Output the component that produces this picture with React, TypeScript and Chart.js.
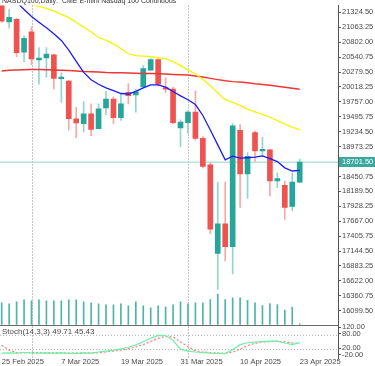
import React, { useEffect, useRef } from 'react';
import { Chart, registerables } from 'chart.js';
Chart.register(...registerables);

const DATES = ['25 Feb 2025','26 Feb 2025','27 Feb 2025','28 Feb 2025','3 Mar 2025','4 Mar 2025','5 Mar 2025','6 Mar 2025','7 Mar 2025','10 Mar 2025','11 Mar 2025','12 Mar 2025','13 Mar 2025','14 Mar 2025','17 Mar 2025','18 Mar 2025','19 Mar 2025','20 Mar 2025','21 Mar 2025','24 Mar 2025','25 Mar 2025','26 Mar 2025','27 Mar 2025','28 Mar 2025','31 Mar 2025','1 Apr 2025','2 Apr 2025','3 Apr 2025','4 Apr 2025','7 Apr 2025','8 Apr 2025','9 Apr 2025','10 Apr 2025','11 Apr 2025','14 Apr 2025','15 Apr 2025','16 Apr 2025','17 Apr 2025','21 Apr 2025','22 Apr 2025','23 Apr 2025'];

const OPEN  = [21470,21157,21204,20630,20985,20492,20526,20583,20164,20123,19462,19376,19548,19290,19652,19807,19479,19923,19881,20019,20312,20497,20009,19980,19302,19393,19578,19117,18657,17105,17622,17220,19260,18497,19221,18898,18916,18371,18295,17927,18353];
const HIGH  = [21500,21376,21221,20916,21071,20709,20709,20595,20267,20135,19664,19761,19721,19721,19940,19847,19893,20078,19980,20393,20514,20514,20181,20014,19445,19605,19950,19157,18698,18353,18353,19376,19359,18871,19250,19135,18928,18514,18371,18514,18755];
const LOW   = [21150,21049,20548,20462,20411,20066,20192,19980,19750,19260,19129,19233,19164,19285,19531,19376,19433,19721,19578,20010,20307,20036,19923,19376,18974,19204,19088,18600,17450,16474,16974,16743,17910,18065,18716,18802,18112,18255,17698,17853,18341];
const CLOSE = [21169,21238,20618,20871,20509,20526,20595,20169,20192,19462,19388,19548,19273,19635,19807,19479,19721,19864,19933,20342,20497,20066,19980,19393,19405,19578,19117,18629,17526,17622,17220,19336,18497,18802,18898,18928,18371,18415,17910,18353,18701.5];
const VOLUME = [550000,525000,575000,625000,600000,625000,600000,600000,600000,625000,625000,575000,550000,525000,500000,500000,525000,475000,575000,475000,425000,475000,450000,500000,575000,525000,550000,550000,632000,775000,632000,675000,675000,617000,550000,482000,532000,507000,367000,442000,17000];

const MA_FAST = [21756,21635,21504,21376,21252,21152,21054,20950,20833,20662,20466,20273,20145,20066,20002,19954,19904,19895,19943,20004,20054,20054,20016,19938,19862,19795,19711,19519,19264,19005,18743,18807,18772,18779,18788,18810,18764,18712,18602,18547,18559];
const MA_MID  = [21652,21600,21549,21497,21462,21428,21394,21350,21290,21233,21152,21066,20980,20885,20833,20773,20687,20600,20566,20557,20549,20531,20514,20462,20393,20317,20245,20152,20038,19917,19796,19750,19695,19626,19583,19540,19488,19428,19367,19316,19273];
const MA_SLOW = [20299,20311,20316,20321,20324,20324,20321,20316,20312,20307,20299,20290,20285,20280,20273,20269,20266,20262,20259,20255,20254,20250,20245,20238,20233,20226,20212,20192,20169,20147,20126,20112,20104,20092,20074,20061,20049,20031,20014,19997,19980];

const STOCH_K = [5,6,5,8,6,5,6,5,6,4,4,6,5,10,14,18,23,30,40,53,68,80,79,59,22,14,10,7,5,4,3.5,20,41,49,52,54,56,56,48,41,49.71];
const STOCH_D = [38,18,8,7,7,7,6,6,6,5,5,5,5,7,10,14,18,24,31,41,54,67,76,73,53,32,15,10,7,5.5,4.5,9,22,37,47,52,54,55,53,48,45.43];

const PRICE_TICKS = [21324.5,21063.25,20802.0,20540.75,20279.5,20018.25,19757.0,19495.75,19234.5,18973.25,18450.75,18189.5,17928.25,17667.0,17405.75,17144.5,16883.25,16622.0,16360.75,16099.5];
const STOCH_TICK_LABELS = ['120.00','80.00','20.00','-20.00'];
const STOCH_TICK_AT = [113.5, 86.5, 26.5, -1];
const STOCH_LEVELS = [80, 20];
const X_TICK_IDX = [0, 8, 16, 24, 32, 40];

const TITLE = 'NASDQ100,Daily:  CME E-mini Nasdaq 100 Continuous';
const STOCH_TITLE = 'Stoch(14,3,3) 49.71 45.43';

const UP = '#26a69a';
const DOWN = '#ef5350';
const UP_WICK = '#93d5cd';
const DOWN_WICK = '#f7a9a7';
const FONT = 'Liberation Sans, Arial, sans-serif';
const TXT = '#4a4a4a';

const X_MIN = -0.23;
const X_MAX = 45.14;

export default function App() {
  const ref = useRef<HTMLCanvasElement>(null);
  useEffect(() => {
    document.body.style.margin = '0';
    const idx = DATES.map((_, i) => i);
    const isUp = idx.map(i => CLOSE[i] >= OPEN[i]);
    const last = CLOSE[CLOSE.length - 1];
    const line = (arr: number[]) => arr.map((v, i) => ({ x: i, y: v }));
    const flat = (v: number) => [{ x: X_MIN, y: v }, { x: X_MAX, y: v }];

    const extras = {
      id: 'extras',
      beforeDatasetsDraw(chart: any) {
        const { ctx, scales } = chart;
        const xs = scales.x, ys = scales.ys, y = scales.y;
        ctx.save();
        ctx.strokeStyle = '#8a8a8a';
        ctx.lineWidth = 1;
        ctx.setLineDash([1, 2]);
        for (let i = 1; i < DATES.length; i++) {
          const m0 = DATES[i - 1].split(' ')[1];
          const m1 = DATES[i].split(' ')[1];
          if (m0 !== m1) {
            const px = Math.round(xs.getPixelForValue(i)) + 0.5;
            ctx.beginPath();
            ctx.moveTo(px, y.top);
            ctx.lineTo(px, ys.bottom);
            ctx.stroke();
          }
        }
        ctx.restore();
      },
      afterDraw(chart: any) {
        const { ctx, scales, chartArea } = chart;
        const ys = scales.ys, y = scales.y;
        ctx.save();
        ctx.strokeStyle = '#6a6a6a';
        ctx.lineWidth = 1;
        ctx.beginPath();
        const sy = Math.round(ys.top) + 0.5;
        ctx.moveTo(chartArea.left, sy);
        ctx.lineTo(chartArea.right, sy);
        ctx.stroke();
        ctx.fillStyle = '#333';
        ctx.font = `7px ${FONT}`;
        ctx.textBaseline = 'alphabetic';
        ctx.textAlign = 'left';
        ctx.fillText(TITLE, 2, 3);
        ctx.fillStyle = TXT;
        ctx.font = `8px ${FONT}`;
        ctx.fillText(STOCH_TITLE, 2, ys.top + 9);
        const py = y.getPixelForValue(last);
        ctx.fillStyle = '#3aa99d';
        ctx.fillRect(chartArea.right + 1, Math.round(py) - 5, 375 - chartArea.right - 1, 10);
        ctx.fillStyle = '#ffffff';
        ctx.font = `7.5px ${FONT}`;
        ctx.textBaseline = 'middle';
        ctx.fillText(last.toFixed(2), chartArea.right + 4, Math.round(py));
        ctx.restore();
      }
    };

    const chart = new Chart(ref.current as HTMLCanvasElement, {
      type: 'bar',
      data: {
        datasets: [
          { type: 'line', data: line(MA_FAST), yAxisID: 'y', borderColor: '#1c1cf5', borderWidth: 1.3, pointRadius: 0, tension: 0 },
          { type: 'line', data: line(MA_MID), yAxisID: 'y', borderColor: '#f5f500', borderWidth: 1.3, pointRadius: 0, tension: 0 },
          { type: 'line', data: line(MA_SLOW), yAxisID: 'y', borderColor: '#f03535', borderWidth: 1.5, pointRadius: 0, tension: 0 },
          { type: 'bar', data: idx.map(i => ({ x: i, y: [OPEN[i], CLOSE[i]] })), yAxisID: 'y', backgroundColor: idx.map(i => isUp[i] ? UP : DOWN), barThickness: 5, grouped: false, minBarLength: 1, borderWidth: 0 },
          { type: 'bar', data: idx.map(i => ({ x: i, y: [LOW[i], HIGH[i]] })), yAxisID: 'y', backgroundColor: idx.map(i => isUp[i] ? UP_WICK : DOWN_WICK), barThickness: 1, grouped: false, borderWidth: 0 },
          { type: 'bar', data: idx.map(i => ({ x: i, y: VOLUME[i] })), yAxisID: 'yv', backgroundColor: '#4fb3a8', barThickness: 1, grouped: false, borderWidth: 0 },
          { type: 'line', data: flat(last), yAxisID: 'y', borderColor: '#93d3cb', borderWidth: 1, pointRadius: 0 },
          { type: 'line', data: line(STOCH_K), yAxisID: 'ys', borderColor: '#6ef0a4', borderWidth: 1.2, pointRadius: 0, tension: 0 },
          { type: 'line', data: line(STOCH_D), yAxisID: 'ys', borderColor: '#ff7a7a', borderWidth: 1.2, borderDash: [2, 2], pointRadius: 0, tension: 0 },
          ...STOCH_LEVELS.map(v => ({ type: 'line', data: flat(v), yAxisID: 'ys', borderColor: '#b0b0b0', borderWidth: 1, borderDash: [1, 2], pointRadius: 0 })),
        ] as any,
      },
      options: {
        responsive: false,
        animation: false,
        events: [],
        layout: { padding: 0, autoPadding: false } as any,
        plugins: { legend: { display: false }, tooltip: { enabled: false } },
        scales: {
          x: {
            type: 'linear', min: X_MIN, max: X_MAX, offset: false,
            grid: { display: false, drawTicks: false }, border: { display: false },
            afterBuildTicks: (s: any) => { s.ticks = X_TICK_IDX.map(v => ({ value: v })); },
            afterFit: (s: any) => { s.height = 8; },
            ticks: { autoSkip: false, maxRotation: 0, align: 'start', padding: 0, color: TXT, font: { family: FONT, size: 7.5, lineHeight: 1 }, callback: (v: any) => DATES[v as number] },
          },
          y: {
            type: 'linear', position: 'right', axis: 'y', stack: 'panes', stackWeight: 324, weight: 1,
            min: 15858.1, max: 21445.2,
            grid: { drawOnChartArea: false, drawTicks: true, tickLength: 3, color: '#555' },
            border: { display: true, color: '#555' },
            afterBuildTicks: (s: any) => { s.ticks = PRICE_TICKS.map(v => ({ value: v })); },
            afterFit: (s: any) => { s.width = 37; },
            ticks: { autoSkip: false, padding: 1, color: TXT, font: { family: FONT, size: 7.5 }, callback: (v: any) => Number(v).toFixed(2) },
          },
          ys: {
            type: 'linear', position: 'right', axis: 'y', stack: 'panes', stackWeight: 34, weight: 2,
            min: -15.2, max: 125.5,
            grid: { drawOnChartArea: false, drawTicks: true, tickLength: 3, color: '#555' },
            border: { display: true, color: '#555' },
            afterBuildTicks: (s: any) => { s.ticks = STOCH_TICK_AT.map(v => ({ value: v })); },
            afterFit: (s: any) => { s.width = 37; },
            ticks: { autoSkip: false, padding: 1, color: TXT, font: { family: FONT, size: 7.5 }, callback: (_v: any, i: number) => STOCH_TICK_LABELS[i] },
          },
          yv: { type: 'linear', position: 'right', axis: 'y', display: false, min: -850000, max: 8100000, weight: 0 },
        } as any,
      },
      plugins: [extras],
    } as any);
    return () => chart.destroy();
  }, []);
  return (
    <div style={{ width: 375, height: 366, background: '#fff' }}>
      <canvas ref={ref} width={375} height={366} style={{ display: 'block', width: 375, height: 366 }} />
    </div>
  );
}
